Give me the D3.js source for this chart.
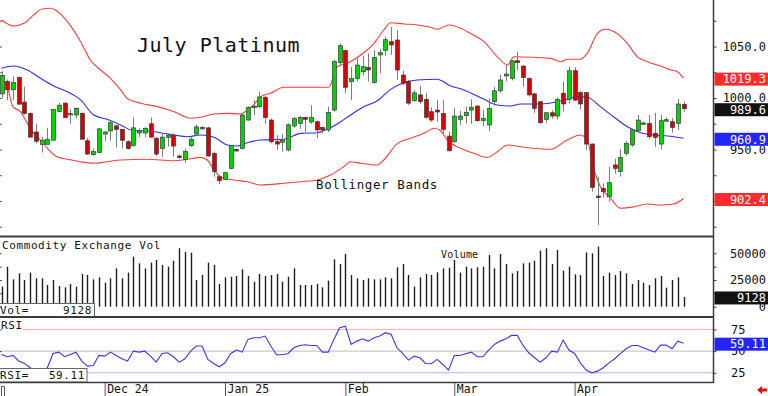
<!DOCTYPE html>
<html>
<head>
<meta charset="utf-8">
<script src="https://cdn.jsdelivr.net/npm/d3@7"></script>
<style>
  body { margin: 0; background: #fff; }
  svg { display: block; font-family: "DejaVu Sans Mono", monospace; }
</style>
</head>
<body>
<div id="wrapper"></div>
<script>
/* DATA */
const opens = [1004,1016,1008,1020,996,985,967,955,955,959, 987,995,984,983.5,985,958.5,945,947,965,968,
  973,969.6,957.6,954,966,966,975,961,951,961.8, 964,943.7,940.5,953.7,965,971,971,946,923.6,921,
  931.7,950,951,978.6,991,991.6,1000.7,978.6,957.6,957, 949.5,972.8,975.4,981,976.7,977,971.5,969,988.3,1034.3,
  1046,1015.8,1019,1025.5,1029.8,1015,1041.8,1046.3,1054.7,1056.3, 1022.3,1016,997.4,1003,998.7,986.7,988.3,985,963,957.6,
  979.3,982.8,988.3,992.2,978,973.8,996.4,1007,1021.4,1019, 1036.2,1031,1019,1004,996.4,979.3,985.7,982.5,1004.6,998.7,
  1026.5,1005.2,1005.2,955.3,904.8,912.3,904.2,935,928.5,946.3, 954.4,968.3,975,975.4,965.7,955.3,978.3,977,975.4,993.9];
const highs = [1026,1018,1021,1021,1011,986,975,962,971,989.5, 995.5,996,989,991,986,961,951,971,968,978,
  974,970,959,981,970.6,971.6,981,962,965.7,965.7, 965.7,945,951,962,974.4,973,972,948,925,928.5,
  954.4,951,985,992,998,1006,1002,980,964,965, 975.4,981.8,982.5,982,993,978,972,991.6,1037,1053,
  1047,1030,1038.5,1041,1043.4,1046.6,1047.3,1059.5,1069,1066, 1026.5,1017.5,1007.8,1011.7,1005,991,998,998,967.3,990,
  987.7,991.6,998.7,993,988.3,999.7,1011,1022.3,1032,1037, 1045,1032,1020,1005,997,986.5,988,1000.7,1016,1030.4,
  1029.8,1007,1006,956,923.6,917,933.3,941,950.2,958, 970.6,983.5,977,983.5,985.7,983.5,981,980.6,999,996.5];
const lows = [1000,998,998,994,984,962,956,947,955,959, 986,981,975,980,960,944.6,944,947,958,959,
  952,951,950,952.7,962,962,962,943.7,943,952.7, 943,941,937,952.7,963,969,943,923.6,916.5,920.4,
  930.8,948,950,978,983.5,990,975,956,949.5,948, 948,971,970,967,975,961,965.7,967,986.7,1032,
  1004.5,998,1016,1022,1016,1014,1024,1041,1042,1017.5, 1012.6,993.2,996.4,994,980,977,977,965.7,948,956,
  973.8,975.4,974.8,977,972.8,968,994,1005,1016,1017, 1027,1011,1001.3,985.7,975,976,980,979.3,987,994.9,
  997,989,949.5,909,876.7,903.6,899.3,926.6,923.6,944, 952.7,967.3,974,960,952.7,950.2,976.5,966.3,968.9,986.7];
const closes = [1022,1008,1015,994,985,962,958,959,960,989, 993,981,985,990,960,945.6,948,970,967,976,
  969.6,959,951,971,968,970.6,962,945.6,962,964, 953.4,942.4,948,960,972,971.5,943.7,928.5,919.7,927.5,
  953.7,949,983.5,991,992,1001,981,957.6,955.3,959, 974,980,981,979.3,981,969,969,986,1035.3,1050.8,
  1010.4,1019,1032,1030.4,1027.2,1039.5,1044,1056.6,1051.5,1027.2, 1014.3,995,1005,996.4,981.3,978.6,986.4,969.6,948.8,982.5,
  982.5,986,991,978,980,990,1007,1017.5,1023.3,1036, 1034.3,1020,1003,990,976,985.7,982.5,998.7,994.2,1026.5,
  998,994.2,955.3,913.3,903.6,909,917.8,931.7,942.4,956, 969,978.6,975.8,962.4,961.8,978,978.9,971.5,994.2,989.6];

const volumes = [18750,37500,25600,31250,25000,31900,26600,26600,20300,25000,
  19400,18100,21250,18750,30600,29700,25600,27500,22500,26600,
  35900,26600,31900,46900,40600,35900,41250,43750,39000,37500,
  43100,54700,51250,50600,25000,29700,41250,39000,21250,27500,
  28100,28750,35000,28750,23400,30600,28750,29700,30600,23400,
  28100,35900,20300,20300,20300,21250,18100,24400,44400,40000,
  49400,29700,26600,25000,26600,25600,25600,27500,26600,36900,
  40000,29700,18750,27500,30600,29700,32200,35900,36600,43750,
  31900,37500,35900,36900,37500,48400,35900,49400,40000,31250,
  33400,40600,41250,43100,52500,54700,40000,53100,33750,37500,
  30300,29700,50900,50000,56250,28750,31900,29700,33400,31250,
  21250,25000,22500,20300,26600,28750,17800,25000,27500,9128];

const rsiValues = [46.2,43.5,45,38.5,35.8,30.8,26.9,26.9,30.8,47.3,
  48.8,43.5,46.2,48.8,38.5,32.7,33.5,45,44.2,48.8,
  45,41.2,38.5,50,48.8,50,44.2,37.3,47.3,48.1,
  43.5,37.3,41.2,50,55.8,55.8,40.4,35.8,31.9,36.5,
  47.3,51.2,48.8,63.5,65.4,65.4,67.3,55.8,45.8,45.8,
  47.3,53.8,56.5,57.3,56.5,56.5,48.8,48.8,63.5,76.9,
  78.8,57.7,61.5,64.2,61.5,65.4,67.3,71.2,69.2,53.8,
  47.3,39.6,44.2,42.3,35.8,35.4,40.4,34.6,28.1,45,
  45,46.9,48.8,43.5,43.5,51.2,57.7,61.5,64.2,68.1,
  68.1,56.5,48.1,42.3,37.3,42.3,50,48.8,62.7,51.2,
  47.3,36.5,28.1,25,26.9,30.8,36.5,41.2,47.3,52.7,
  56.5,56.5,53.8,51.2,48.8,56.9,56.9,52.7,61.5,59.11];

// Bollinger bands sampled as [candle index, price]
const upperBand = [[0,1075.7],[2.1,1069.9],[3.9,1072.5],[5.6,1080.6],[7.1,1086.4],[8.6,1087.1],[9.4,1085.4],
  [11.5,1074.1],[13.8,1054.7],[15.5,1036.9],[17.3,1027.2],[19,1019.1],[20.8,1007.8],[21.9,999.7],[24.3,994.9],
  [27.2,991.6],[30.1,986.7],[33,980.3],[34.7,981.3],[37.1,984.5],[39.4,985.1],[41.7,984.5],[42.9,988.3],
  [44,993.2],[45.2,1001.3],[46.9,1004.6],[49.3,1010.4],[52.2,1010.4],[57.1,1010.4],[58.6,1030.4],[60.3,1033.7],
  [62.7,1041.8],[65,1053.1],[66.7,1066],[67.9,1073.1],[70.2,1071.9],[72.5,1070.9],[74.9,1068.6],[76,1066.7],
  [78.1,1070.9],[80.1,1067.7],[81.8,1062.8],[84.2,1054.7],[86.5,1040.1],[88.3,1032],[89.4,1040.1],[92.8,1039.5],
  [95.8,1038.5],[97.6,1035.2],[98.7,1037.6],[101,1037.6],[102.2,1043.4],[104,1062.8],[105.4,1066.7],[106.9,1064.4],
  [109.2,1053.1],[110.9,1040.1],[112.7,1035.2],[115,1031.1],[116.8,1027.2],[117.9,1025.5],[119,1019.3]];
const middleBand = [[0,1028.8],[2.1,1031.1],[4.5,1027.2],[6.8,1019.1],[9.1,1011.7],[11.5,1006.1],[13.8,998.1],
  [16.1,983.5],[18.4,979.3],[20.8,973.8],[23.1,968.2],[25.4,968.2],[27.7,966.3],[30.1,964.1],[32.4,962.4],
  [34.7,964.1],[37.1,961.8],[39.4,954.4],[41.1,953.4],[42.9,956.6],[45.2,959.2],[49.3,959.9],[52.2,965.7],
  [55.1,966.3],[56.8,969.6],[59.2,977],[60.9,983.5],[63.2,991.6],[65.6,997.4],[67.9,1008.4],[70.2,1014.9],
  [72.5,1017.5],[76,1018.2],[78.4,1011.7],[80.7,1007.8],[84.2,998.7],[86.5,993.2],[88.8,992.2],[90.6,994.2],
  [94.1,994.2],[97,996.4],[98.7,998.7],[100.5,1001.3],[102.2,1000.7],[104.5,991.6],[106.9,981.3],[109.2,972.1],
  [111.5,966.3],[113.8,964.1],[116.2,963.1],[119,960.9]];
const lowerBand = [[0,1019.1],[1,1011],[2,991.6],[3.3,986.7],[4.5,975.4],[5.6,965.7],[6.8,959.2],[8,951.2],
  [9.7,943],[11.5,940.5],[13.8,938.1],[16.1,936.6],[18.4,938.1],[20.8,939.8],[25.4,940.5],[30.1,939.1],
  [32.4,940.5],[34.7,942.4],[35.9,939.8],[37.1,930.1],[38.2,923.6],[40.5,920.4],[42.9,918.7],[45.2,915.5],
  [49.3,917.2],[52.2,918.7],[55.1,920.4],[57.4,925.2],[59.7,933.3],[60.9,938.1],[62.7,936.6],[65.6,934.9],
  [66.7,939.8],[69.1,956],[71.4,960.9],[73.7,965.7],[75.5,970.6],[76.6,968.2],[77.8,959.2],[80.1,951.2],
  [82.4,946.3],[84.8,942.4],[86.5,947.9],[88.3,954.4],[90.6,952.7],[95.8,950.2],[98.7,959.2],[101,964.1],
  [102.2,959.2],[103.4,930.1],[104.5,913.9],[106.3,902.6],[108,892.9],[110.4,894.4],[112.7,897.1],[115,896.1],
  [117.3,897.1],[119,902.4]];

const monthLabels = ['Dec 24', 'Jan 25', 'Feb', 'Mar', 'Apr'];
const monthIndex = [18, 39, 60, 79, 100];
const priceTicks = [875, 900, 925, 950, 975, 1000, 1025, 1050, 1075];
const volumeTicks = [0, 12500, 25000, 37500, 50000];
const rsiTicks = [25, 50, 75];

function drawChart() {
  const width = 768;
  const height = 396;
  const axisX = 713.5;

  const svg = d3.select('#wrapper').append('svg')
    .attr('width', width).attr('height', height);

  /* SCALES */
  const xScale = d3.scaleLinear().domain([0, 119]).range([1.5, 683.5]);
  const yPrice = d3.scaleLinear().domain([900, 1050]).range([201, 46.5]);
  const yVol = d3.scaleLinear().domain([0, 50000]).range([306.7, 253.3]);
  const yRsi = d3.scaleLinear().domain([25, 75]).range([372.8, 329.4]);

  svg.append('defs').append('clipPath').attr('id', 'priceClip')
    .append('rect').attr('x', 0).attr('y', 0).attr('width', axisX).attr('height', 235);

  /* PRICE PANEL */
  const price = svg.append('g').attr('clip-path', 'url(#priceClip)');
  const bandLine = d3.line()
    .x(d => xScale(d[0])).y(d => yPrice(d[1]))
    .curve(d3.curveMonotoneX);

  price.append('path').datum(upperBand).attr('d', bandLine)
    .attr('fill', 'none').attr('stroke', '#ff3b3b').attr('stroke-width', 1.1);
  price.append('path').datum(lowerBand).attr('d', bandLine)
    .attr('fill', 'none').attr('stroke', '#ff3b3b').attr('stroke-width', 1.1);
  price.append('path').datum(middleBand).attr('d', bandLine)
    .attr('fill', 'none').attr('stroke', '#2b2bff').attr('stroke-width', 1.1);

  const candles = d3.range(opens.length);
  price.selectAll('line.wick').data(candles).join('line')
    .attr('class', 'wick')
    .attr('x1', i => Math.round(xScale(i)) + 0.5)
    .attr('x2', i => Math.round(xScale(i)) + 0.5)
    .attr('y1', i => yPrice(Math.max(highs[i], opens[i], closes[i])))
    .attr('y2', i => yPrice(Math.min(lows[i], opens[i], closes[i])))
    .attr('stroke', '#7d7d7d').attr('stroke-width', 1);

  price.selectAll('rect.body').data(candles).join('rect')
    .attr('class', 'body')
    .attr('x', i => Math.round(xScale(i)) - 1.5)
    .attr('width', 4)
    .attr('y', i => yPrice(Math.max(opens[i], closes[i])))
    .attr('height', i => Math.max(1.5, Math.abs(yPrice(opens[i]) - yPrice(closes[i]))))
    .attr('fill', i => closes[i] >= opens[i] ? '#00d400' : '#d80000')
    .attr('stroke', '#3a3a3a').attr('stroke-width', 0.7);

  svg.append('text').text('July Platinum')
    .attr('x', 137).attr('y', 52)
    .attr('font-size', 20).attr('letter-spacing', 0.5).attr('fill', '#111');
  svg.append('text').text('Bollinger Bands')
    .attr('x', 316).attr('y', 188.5)
    .attr('font-size', 12.5).attr('letter-spacing', 0.6).attr('fill', '#111');

  /* VOLUME PANEL */
  svg.append('g').selectAll('line').data(candles).join('line')
    .attr('x1', i => Math.round(xScale(i)) + 0.5)
    .attr('x2', i => Math.round(xScale(i)) + 0.5)
    .attr('y1', yVol(0))
    .attr('y2', i => yVol(volumes[i]))
    .attr('stroke', '#1e1e1e').attr('stroke-width', 1.4);

  svg.append('text').text('Commodity Exchange Vol')
    .attr('x', 2).attr('y', 248.5)
    .attr('font-size', 11).attr('letter-spacing', 0.6).attr('fill', '#111');
  svg.append('text').text('Volume')
    .attr('x', 441).attr('y', 257.5)
    .attr('font-size', 10).attr('letter-spacing', 0.2).attr('fill', '#111');

  /* RSI PANEL */
  svg.append('line').attr('x1', 23).attr('x2', axisX)
    .attr('y1', yRsi(75)).attr('y2', yRsi(75))
    .attr('stroke', '#ffa8a8').attr('stroke-width', 1);
  svg.append('line').attr('x1', 0).attr('x2', axisX)
    .attr('y1', yRsi(50)).attr('y2', yRsi(50))
    .attr('stroke', '#bdbdbd').attr('stroke-width', 1);
  svg.append('line').attr('x1', 0).attr('x2', axisX)
    .attr('y1', yRsi(25)).attr('y2', yRsi(25))
    .attr('stroke', '#b0b4ff').attr('stroke-width', 1);

  const rsiLine = d3.line().x((d, i) => xScale(i)).y(d => yRsi(d));
  svg.append('path').datum(rsiValues).attr('d', rsiLine)
    .attr('fill', 'none').attr('stroke', '#3535ff').attr('stroke-width', 1.1);

  svg.append('text').text('RSI')
    .attr('x', 1).attr('y', 328.5)
    .attr('font-size', 11).attr('letter-spacing', 0.6).attr('fill', '#111');

  /* LEFT READOUT BOXES */
  function readout(x0, y0, w, label, value) {
    const g = svg.append('g');
    g.append('rect').attr('x', -1).attr('y', y0).attr('width', w + 1).attr('height', 13.5)
      .attr('fill', '#fff').attr('stroke', '#666').attr('stroke-width', 1);
    g.append('text').text(label).attr('x', 0).attr('y', y0 + 10.5)
      .attr('font-size', 11).attr('letter-spacing', 0.6).attr('fill', '#111');
    g.append('text').text(value).attr('x', x0).attr('y', y0 + 10.5)
      .attr('text-anchor', 'end')
      .attr('font-size', 11).attr('letter-spacing', 0.6).attr('fill', '#111');
  }
  readout(92, 303.5, 94.5, 'Vol=', d3.format('d')(volumes[volumes.length - 1]));
  readout(85, 368.5, 87, 'RSI=', d3.format('.2f')(rsiValues[rsiValues.length - 1]));

  /* PANEL FRAMES */
  svg.append('line').attr('x1', 0).attr('x2', axisX).attr('y1', 236.5).attr('y2', 236.5)
    .attr('stroke', '#3c3c3c').attr('stroke-width', 2);
  svg.append('line').attr('x1', 0).attr('x2', axisX).attr('y1', 317).attr('y2', 317)
    .attr('stroke', '#3c3c3c').attr('stroke-width', 2);
  svg.append('line').attr('x1', 0).attr('x2', axisX).attr('y1', 382.5).attr('y2', 382.5)
    .attr('stroke', '#3c3c3c').attr('stroke-width', 1.5);
  svg.append('line').attr('x1', axisX).attr('x2', axisX).attr('y1', 0).attr('y2', 383)
    .attr('stroke', '#3c3c3c').attr('stroke-width', 1.5);

  /* AXES */
  const fmtPrice = d3.format('.1f');
  const priceAxis = svg.append('g')
    .attr('transform', `translate(${axisX},0)`)
    .call(d3.axisRight(yPrice).tickValues(priceTicks).tickSize(3)
      .tickFormat(d => d % 50 === 0 ? fmtPrice(d) : ''));
  const volAxis = svg.append('g')
    .attr('transform', `translate(${axisX},0)`)
    .call(d3.axisRight(yVol).tickValues(volumeTicks).tickSize(3)
      .tickFormat(d => d % 25000 === 0 ? d : ''));
  const rsiAxis = svg.append('g')
    .attr('transform', `translate(${axisX},0)`)
    .call(d3.axisRight(yRsi).tickValues(rsiTicks).tickSize(3));

  [priceAxis, volAxis].forEach(ax => {
    ax.select('.domain').remove();
    ax.selectAll('.tick line').attr('stroke', '#3c3c3c');
    ax.selectAll('.tick text')
      .attr('x', 766 - axisX).attr('text-anchor', 'end')
      .attr('font-family', '"DejaVu Sans Mono", monospace')
      .attr('font-size', 12).attr('fill', '#111');
  });
  rsiAxis.select('.domain').remove();
  rsiAxis.selectAll('.tick line').attr('stroke', '#3c3c3c');
  rsiAxis.selectAll('.tick text')
    .attr('x', 731 - axisX).attr('text-anchor', 'start')
    .attr('font-family', '"DejaVu Sans Mono", monospace')
    .attr('font-size', 12).attr('fill', '#111');

  // small ticks along the left edge
  [[yPrice, priceTicks], [yVol, volumeTicks], [yRsi, rsiTicks]].forEach(([sc, vals]) => {
    const ax = svg.append('g')
      .call(d3.axisRight(sc).tickValues(vals).tickSize(2).tickFormat(''));
    ax.select('.domain').remove();
    ax.selectAll('.tick line').attr('stroke', '#555');
  });

  // date axis
  const dateAxis = svg.append('g')
    .attr('transform', 'translate(0,383)')
    .call(d3.axisBottom(d3.scaleLinear().domain(xScale.domain()).range(xScale.range()))
      .tickValues(monthIndex).tickSize(13)
      .tickFormat((d, i) => monthLabels[i]));
  dateAxis.select('.domain').remove();
  dateAxis.selectAll('.tick line').attr('stroke', '#555');
  dateAxis.selectAll('.tick text')
    .attr('x', 2).attr('y', 10).attr('dy', 0)
    .attr('text-anchor', 'start')
    .attr('font-family', '"DejaVu Sans Mono", monospace')
    .attr('font-size', 11.5).attr('fill', '#111');
  svg.append('path').attr('d', 'M1.5,396V386.5H4.5V396')
    .attr('fill', 'none').attr('stroke', '#555');

  /* LAST-VALUE TAGS */
  function tag(y, value, fill) {
    svg.append('rect').attr('x', axisX + 1).attr('y', y - 5.5)
      .attr('width', width - axisX).attr('height', 13).attr('fill', fill);
    svg.append('text').text(value)
      .attr('x', 766).attr('y', y + 5.3).attr('text-anchor', 'end')
      .attr('font-size', 12).attr('fill', '#fff');
  }
  const lastUpper = upperBand[upperBand.length - 1][1];
  const lastMid = middleBand[middleBand.length - 1][1];
  const lastLower = lowerBand[lowerBand.length - 1][1];
  const lastClose = closes[closes.length - 1];
  tag(yPrice(lastUpper), fmtPrice(lastUpper), '#ff2b2b');
  tag(yPrice(lastClose), fmtPrice(lastClose), '#111');
  tag(yPrice(lastMid), fmtPrice(lastMid), '#2424ff');
  tag(yPrice(lastLower), fmtPrice(lastLower), '#ff2b2b');
  tag(yVol(volumes[volumes.length - 1]), volumes[volumes.length - 1], '#111');
  tag(yRsi(rsiValues[rsiValues.length - 1]), d3.format('.2f')(rsiValues[rsiValues.length - 1]), '#2424ff');

  // red scroll arrow, bottom right
  svg.append('path')
    .attr('d', 'M757,390L762,386V388.5H767V391.5H762V394Z')
    .attr('fill', '#e01010');
}

drawChart();
</script>
</body>
</html>
